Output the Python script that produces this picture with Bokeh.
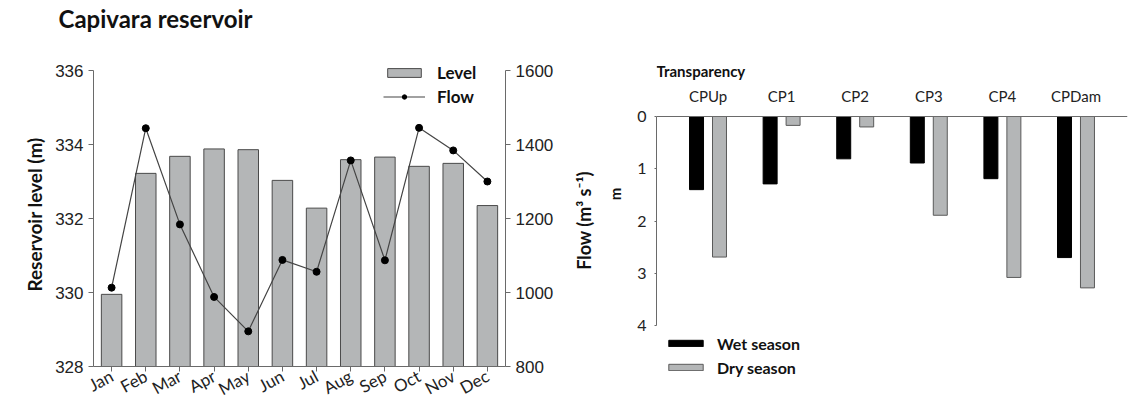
import math
from bokeh.plotting import figure
from bokeh.layouts import row, column
from bokeh.models import (FactorRange, Range1d, LinearAxis, CategoricalAxis, Legend, LegendItem,
                          FixedTicker, Label, ColumnDataSource)
from bokeh.transform import dodge
from bokeh.embed import file_html
from bokeh.resources import INLINE

# ---------------- data ----------------
months = ["Jan", "Feb", "Mar", "Apr", "May", "Jun", "Jul", "Aug", "Sep", "Oct", "Nov", "Dec"]
level = [329.95, 333.22, 333.68, 333.88, 333.86, 333.03, 332.28, 333.59, 333.66, 333.41, 333.49, 332.35]
flow = [1013, 1444, 1184, 988, 895, 1088, 1056, 1357, 1087, 1445, 1384, 1300]

sites = ["CPUp", "CP1", "CP2", "CP3", "CP4", "CPDam"]
wet = [1.40, 1.29, 0.81, 0.89, 1.19, 2.70]
dry = [2.69, 0.17, 0.20, 1.89, 3.08, 3.28]

level_ticks = [328, 330, 332, 334, 336]
flow_ticks = [800, 1000, 1200, 1400, 1600]
depth_ticks = [0, 1, 2, 3, 4]

CAL = "Lato"
ARI = "Liberation Sans"
GREY = "#b4b6b7"
AXC = "#6a6a6a"
TXT = "#111"

HEAD = 33           # height of the title strip (px)
TOP = 29            # common top border of all frames below the strip (px)
FT = HEAD + TOP     # page y of frame tops
L_PX = 296 / 8.0    # px per metre (left chart)
F_PX = 296 / 800.0  # px per flow unit
R_PX = 209 / 4.0    # px per metre (right chart)
L_EXT = 70 - FT     # frame extension above 336 / 1600
R_EXT = 116 - FT    # frame extension above 0 m

# ---------------- title strip ----------------
ph = figure(width=1135, height=HEAD, x_range=Range1d(0, 1135), y_range=Range1d(HEAD, 0),
            min_border=0, x_axis_type=None, y_axis_type=None,
            output_backend="svg", toolbar_location=None)
ph.grid.visible = False
ph.outline_line_color = None
ph.add_layout(Label(x=58, y=18, text="Capivara reservoir", text_align="left",
                    text_baseline="middle", text_font=CAL, text_font_style="bold",
                    text_font_size="24px", text_color=TXT))

# ---------------- left chart ----------------
src1 = ColumnDataSource(dict(month=months, level=level, flow=flow))
p1 = figure(x_range=FactorRange(*months, range_padding=0.03, range_padding_units="absolute"),
            y_range=Range1d(328, 336 + L_EXT / L_PX), frame_width=412, frame_height=366 - FT,
            min_border_left=93, min_border_right=65, min_border_top=TOP, min_border_bottom=0,
            output_backend="svg", toolbar_location=None)
p1.extra_y_ranges = {"flow": Range1d(800, 1600 + L_EXT / F_PX)}
p1.grid.visible = False
p1.outline_line_color = None

bars = p1.vbar(x="month", top="level", bottom=328, width=0.6, source=src1,
               fill_color=GREY, line_color="#4a4a4a", line_width=1)
ln = p1.line(x="month", y="flow", source=src1, y_range_name="flow", line_color="#444", line_width=1.2)
sc = p1.scatter(x="month", y="flow", source=src1, y_range_name="flow", size=7,
                fill_color="black", line_color="black")

ya = p1.yaxis[0]
ya.ticker = FixedTicker(ticks=level_ticks)
ya.bounds = (328, 336)
ya.axis_label = "Reservoir level (m)"
ya.axis_label_text_font = CAL
ya.axis_label_text_font_style = "bold"
ya.axis_label_text_font_size = "19px"
ya.axis_label_text_color = TXT
ya.axis_label_standoff = 6
ya.major_label_text_font = ARI
ya.major_label_text_font_size = "17px"
ya.major_label_text_color = "#222"
ya.minor_tick_line_color = None

ra = LinearAxis(y_range_name="flow", ticker=FixedTicker(ticks=flow_ticks), bounds=(800, 1600))
ra.major_label_text_font = ARI
ra.major_label_text_font_size = "17px"
ra.major_label_text_color = "#222"
ra.minor_tick_line_color = None
p1.add_layout(ra, "right")

xa = p1.xaxis[0]
xa.major_label_orientation = 0.5
xa.major_label_text_font = CAL
xa.major_label_text_font_size = "17px"
xa.major_label_text_color = "#222"
xa.major_label_standoff = 3

for ax in (ya, ra, xa):
    ax.axis_line_color = AXC
    ax.major_tick_line_color = AXC
    ax.major_tick_out = 5
    ax.major_tick_in = 0

leg1 = Legend(items=[LegendItem(label="Level", renderers=[bars]),
                     LegendItem(label="Flow", renderers=[ln, sc])],
              location=(290, 259), glyph_width=42, glyph_height=11, label_standoff=12,
              spacing=3, padding=0, margin=0, border_line_color=None,
              background_fill_alpha=0, label_text_font=CAL, label_text_font_style="bold",
              label_text_font_size="17px", label_text_color=TXT, label_height=20)
p1.add_layout(leg1, "center")

# ---------------- flow axis label (narrow strip) ----------------
pm = figure(x_range=Range1d(0, 1), y_range=Range1d(0, 1), frame_width=26, frame_height=366 - FT,
            min_border_left=0, min_border_right=0, min_border_top=TOP, min_border_bottom=0,
            x_axis_type=None, y_axis_type=None, output_backend="svg", toolbar_location=None)
pm.grid.visible = False
pm.outline_line_color = None
pm.add_layout(Label(x=0.5, y=146 / (366 - FT), text="Flow (m³ s⁻¹)", angle=math.pi / 2,
                    text_align="center", text_baseline="middle", text_font=CAL,
                    text_font_style="bold", text_font_size="18px", text_color=TXT))

# ---------------- right chart ----------------
src2 = ColumnDataSource(dict(site=sites, wet=wet, dry=dry))
p2 = figure(x_range=FactorRange(*sites, range_padding=0.2, range_padding_units="absolute"),
            y_range=Range1d(4, -R_EXT / R_PX), frame_width=471, frame_height=325 - FT,
            x_axis_location=None,
            min_border_left=60, min_border_right=8, min_border_top=TOP, min_border_bottom=0,
            output_backend="svg", toolbar_location=None)
p2.grid.visible = False
p2.outline_line_color = None

wr = p2.vbar(x=dodge("site", -0.156, range=p2.x_range), top="wet", bottom=0, width=0.19,
             source=src2, fill_color="black", line_color="black")
dr = p2.vbar(x=dodge("site", 0.156, range=p2.x_range), top="dry", bottom=0, width=0.19,
             source=src2, fill_color=GREY, line_color="#5a5a5a")

xa2 = CategoricalAxis(fixed_location=0)
xa2.axis_line_color = AXC
xa2.major_tick_line_color = None
xa2.major_label_text_font = CAL
xa2.major_label_text_font_size = "15px"
xa2.major_label_text_color = "#222"
xa2.major_label_standoff = 6
p2.add_layout(xa2, "above")

ya2 = p2.yaxis[0]
ya2.ticker = FixedTicker(ticks=depth_ticks)
ya2.bounds = (0, 4)
ya2.axis_line_color = AXC
ya2.major_tick_line_color = AXC
ya2.major_tick_out = 2
ya2.major_tick_in = 0
ya2.minor_tick_line_color = None
ya2.major_label_text_font = CAL
ya2.major_label_text_font_size = "16px"
ya2.major_label_text_color = "#222"
ya2.major_label_standoff = 8
ya2.axis_label = "m"
ya2.axis_label_text_font = CAL
ya2.axis_label_text_font_style = "bold"
ya2.axis_label_text_font_size = "15px"
ya2.axis_label_text_color = TXT
ya2.axis_label_standoff = 10

p2.add_layout(Label(x=-0.2, y=-46 / R_PX, text="Transparency", text_align="left",
                    text_baseline="middle", text_font=CAL, text_font_style="bold",
                    text_font_size="15px", text_color=TXT))

leg2 = Legend(items=[LegendItem(label="Wet season", renderers=[wr]),
                     LegendItem(label="Dry season", renderers=[dr])],
              location="top_left", glyph_width=43, glyph_height=8, label_standoff=10,
              spacing=4, padding=0, margin=8, border_line_color=None,
              background_fill_alpha=0, label_text_font=CAL, label_text_font_style="bold",
              label_text_font_size="16px", label_text_color=TXT, label_height=20)
p2.add_layout(leg2, "below")

layout = column(ph, row(p1, pm, p2))
open("out.html", "w").write(file_html(layout, INLINE))
